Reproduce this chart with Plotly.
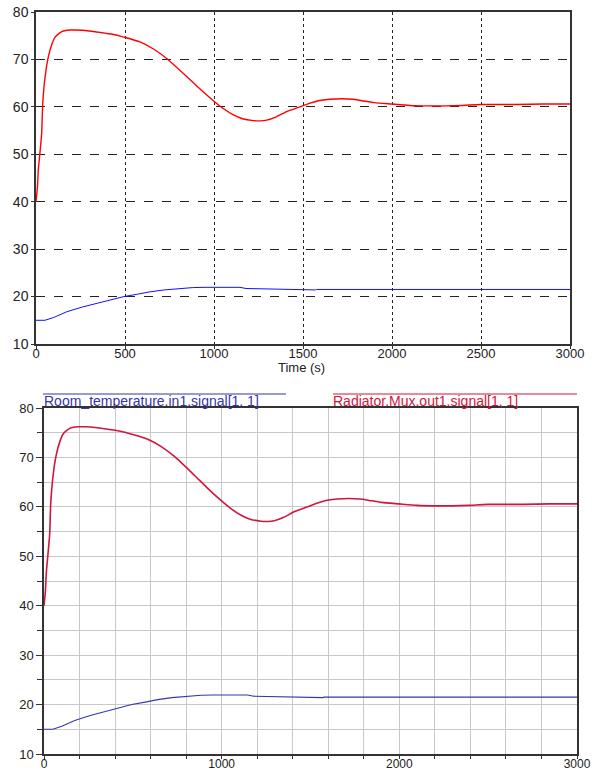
import plotly.graph_objects as go

# ---- data ----
t_radiator = [0, 8, 13, 22, 32, 38, 51, 69, 90, 107, 130, 153, 190, 229, 300, 360, 430, 494,
              584, 660, 734, 846, 920, 993, 1050, 1109, 1160, 1221, 1260, 1296, 1350, 1408,
              1483, 1540, 1586, 1650, 1717, 1780, 1830, 1900, 1998, 2100, 2204, 2300, 2391,
              2500, 2700, 2850, 3000]
radiator_temp = [40, 43, 46.7, 50.3, 54.5, 60.8, 66.3, 70.5, 73.3, 74.7, 75.5, 76.0, 76.2, 76.2,
                 76.0, 75.7, 75.3, 74.7, 73.7, 72.2, 70.2, 66.4, 63.8, 61.4, 59.7, 58.3, 57.5,
                 57.1, 57.05, 57.2, 57.9, 59.0, 60.0, 60.8, 61.3, 61.6, 61.7, 61.6, 61.3, 60.9,
                 60.6, 60.3, 60.2, 60.2, 60.3, 60.5, 60.5, 60.6, 60.6]

t_room = [0, 50, 100, 173, 260, 360, 430, 494, 570, 640, 720, 809, 884, 950, 1000, 1080, 1146,
          1180, 1268, 1350, 1483, 1570, 1575, 2000, 2500, 3000]
room_temp = [15.0, 15.0, 15.6, 16.8, 17.8, 18.8, 19.4, 20.0, 20.5, 21.0, 21.4, 21.7, 21.9, 21.95,
             21.95, 21.95, 21.95, 21.7, 21.6, 21.5, 21.4, 21.4, 21.5, 21.5, 21.5, 21.5]

legend_room = "Room_temperature.in1.signal[1, 1]"
legend_rad = "Radiator.Mux.out1.signal[1, 1]"
x_title = "Time (s)"

W, H = 595, 771
FONT = "Liberation Sans, Arial, sans-serif"

fig = go.Figure()

# top panel
fig.add_trace(go.Scatter(x=t_room, y=room_temp, mode="lines", line=dict(color="#1010ff", width=1),
                         xaxis="x", yaxis="y", showlegend=False))
fig.add_trace(go.Scatter(x=t_radiator, y=radiator_temp, mode="lines",
                         line=dict(color="#ff0000", width=1.4, shape="spline", smoothing=0.6),
                         xaxis="x", yaxis="y", showlegend=False))
# bottom panel
fig.add_trace(go.Scatter(x=t_room, y=room_temp, mode="lines", line=dict(color="#3636a8", width=1.1),
                         xaxis="x2", yaxis="y2", showlegend=False))
fig.add_trace(go.Scatter(x=t_radiator, y=radiator_temp, mode="lines",
                         line=dict(color="#d0163c", width=1.6, shape="spline", smoothing=0.6),
                         xaxis="x2", yaxis="y2", showlegend=False))

def px_x(p):
    return p / W

def px_y(p):
    return 1 - p / H

fig.update_layout(
    width=W, height=H,
    margin=dict(l=0, r=0, t=0, b=0, autoexpand=False),
    paper_bgcolor="white", plot_bgcolor="white",
    font=dict(family=FONT, color="#222"),
    xaxis=dict(domain=[px_x(36), px_x(570)], anchor="y", range=[0, 3000], dtick=500, tick0=0,
               automargin=False, ticklabeloverflow="allow", ticklabelstandoff=-6,
               showgrid=True, gridcolor="#222", griddash="dot", gridwidth=1,
               showline=True, linecolor="#333", linewidth=1.5, mirror=True,
               ticks="outside", ticklen=3, tickcolor="#333",
               tickfont=dict(size=13, color="#222"), zeroline=False),
    yaxis=dict(domain=[px_y(344), px_y(12)], anchor="x", range=[10, 80], dtick=10, tick0=10,
               automargin=False, ticklabeloverflow="allow",
               showgrid=True, gridcolor="#222", griddash="dash", gridwidth=1,
               showline=True, linecolor="#333", linewidth=1.5, mirror=True,
               ticks="outside", ticklen=3, tickcolor="#333",
               tickfont=dict(size=14, color="#222"), zeroline=False),
    xaxis2=dict(domain=[px_x(44), px_x(577)], anchor="y2", range=[0, 3000], dtick=1000, tick0=0,
                automargin=False, ticklabeloverflow="allow", ticklabelstandoff=-5,
                showgrid=True, gridcolor="#c8c8c8", gridwidth=1,
                minor=dict(dtick=200, showgrid=True, gridcolor="#c8c8c8", ticks="outside",
                           ticklen=3, tickcolor="#333"),
                showline=True, linecolor="#333", linewidth=1.5, mirror=True,
                ticks="outside", ticklen=3, tickcolor="#333",
                tickfont=dict(size=12, color="#222"), zeroline=False),
    yaxis2=dict(domain=[px_y(754), px_y(408)], anchor="x2", range=[10, 80], dtick=10, tick0=10,
                automargin=False, ticklabeloverflow="allow",
                showgrid=True, gridcolor="#c8c8c8", gridwidth=1,
                minor=dict(dtick=5, showgrid=True, gridcolor="#c8c8c8", ticks="outside",
                           ticklen=5, tickcolor="#333"),
                showline=True, linecolor="#333", linewidth=1.5, mirror=True,
                ticks="outside", ticklen=6, tickcolor="#333",
                tickfont=dict(size=13, color="#222"), zeroline=False),
)

# x-axis title of the top panel
fig.add_annotation(x=px_x(301), y=px_y(367), xref="paper", yref="paper", xanchor="center",
                   yanchor="middle", text=x_title, showarrow=False,
                   font=dict(size=13, color="#222", family=FONT))

# custom legend for bottom panel
fig.add_annotation(x=px_x(42), y=px_y(401), xref="paper", yref="paper", xanchor="left",
                   yanchor="middle", text=legend_room, showarrow=False,
                   font=dict(size=14, color="#3636a8", family=FONT))
fig.add_annotation(x=px_x(331), y=px_y(401), xref="paper", yref="paper", xanchor="left",
                   yanchor="middle", text=legend_rad, showarrow=False,
                   font=dict(size=14, color="#d0163c", family=FONT))
fig.add_shape(type="line", xref="paper", yref="paper", x0=px_x(43), x1=px_x(286),
              y0=px_y(394), y1=px_y(394), line=dict(color="#3636a8", width=1))
fig.add_shape(type="line", xref="paper", yref="paper", x0=px_x(333), x1=px_x(577),
              y0=px_y(394), y1=px_y(394), line=dict(color="#d0163c", width=1))

# remove the default 8px page margin so the figure fills the window exactly
fig.write_html("out.html", config={"displayModeBar": False},
               post_script="document.body.style.margin='0';")
